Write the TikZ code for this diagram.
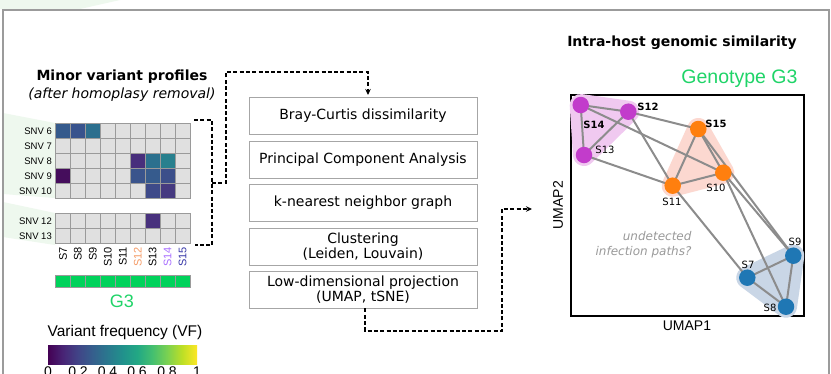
\documentclass[tikz,border=0pt]{standalone}
\usepackage{fontspec}
\setmainfont{DejaVu Sans}
\newfontfamily\arialf{Liberation Sans}
\usetikzlibrary{arrows.meta}
\definecolor{frameGray}{HTML}{9B9B9B}
\definecolor{bgGreen}{HTML}{EEF8EE}
\definecolor{cellGray}{HTML}{E0E0E0}
\definecolor{cellLine}{HTML}{9A9A9A}
\definecolor{boxGray}{HTML}{A6A6A6}
\definecolor{genoGreen}{HTML}{00D25B}
\definecolor{txtGreen}{HTML}{1FD468}
\definecolor{edgeGray}{HTML}{8C8C8C}
\definecolor{nPurple}{HTML}{C23CCB}
\definecolor{nOrange}{HTML}{FF7F0E}
\definecolor{nBlue}{HTML}{1F77B4}
\definecolor{hPurple}{HTML}{F0C9F0}
\definecolor{hOrange}{HTML}{FCD8D0}
\definecolor{hBlue}{HTML}{C9D6E6}
\definecolor{lOrange}{HTML}{F59C68}
\definecolor{lLav}{HTML}{A970FF}
\definecolor{lBlue}{HTML}{3838A8}
\definecolor{undGray}{HTML}{9A9A9A}
\definecolor{v0}{HTML}{440154}
\definecolor{v1}{HTML}{482475}
\definecolor{v2}{HTML}{414487}
\definecolor{v3}{HTML}{355F8D}
\definecolor{v4}{HTML}{2A788E}
\definecolor{v5}{HTML}{21918C}
\definecolor{v6}{HTML}{22A884}
\definecolor{v7}{HTML}{44BF70}
\definecolor{v8}{HTML}{7AD151}
\definecolor{v9}{HTML}{BDDF26}
\definecolor{v10}{HTML}{FDE725}
\definecolor{cA}{HTML}{355A8C}
\definecolor{cB}{HTML}{38538D}
\definecolor{cC}{HTML}{2C6F8E}
\definecolor{cD}{HTML}{482F7C}
\definecolor{cE}{HTML}{2B708E}
\definecolor{cF}{HTML}{28808E}
\definecolor{cG}{HTML}{450D5C}
\definecolor{cH}{HTML}{3A548C}
\definecolor{cI}{HTML}{365B8D}
\definecolor{cJ}{HTML}{3C4F8A}
\definecolor{cK}{HTML}{3E4A89}
\definecolor{cL}{HTML}{463A80}
\definecolor{cM}{HTML}{48317D}
\pgfdeclarehorizontalshading{viridis}{100bp}{color(0bp)=(v0); color(25bp)=(v0); color(30bp)=(v1); color(35bp)=(v2); color(40bp)=(v3); color(45bp)=(v4); color(50bp)=(v5); color(55bp)=(v6); color(60bp)=(v7); color(65bp)=(v8); color(70bp)=(v9); color(75bp)=(v10); color(100bp)=(v10)}
\newcommand\hmcell[3]{\draw[cell,fill=#3] ({55.5+#1*14.95},{#2}) rectangle ++(14.95,15);}
\begin{document}
\begin{tikzpicture}[x=1pt,y=-1pt,
  cell/.style={draw=cellLine, line width=0.9pt, fill=cellGray},
  gcell/.style={draw=cellLine, line width=0.9pt, fill=genoGreen},
  rowlab/.style={anchor=east, inner sep=0pt, font=\arialf\fontsize{9.5}{11}\selectfont},
  collab/.style={rotate=90, anchor=east, inner sep=0pt, font=\arialf\fontsize{11}{12}\selectfont},
  stepbox/.style={draw=boxGray, line width=0.9pt, fill=white, minimum width=228pt, minimum height=37pt, align=center, inner sep=0pt, font=\fontsize{14}{15.5}\selectfont},
  dashconn/.style={draw=black, line width=1.3pt, dash pattern=on 4pt off 2.3pt},
  tipv/.style={-{Stealth[length=6pt,width=5.5pt]}},
  samp/.style={circle, inner sep=0pt, minimum size=16.5pt},
  slab/.style={inner sep=0pt, font=\fontsize{10}{12}\selectfont},
  sbold/.style={inner sep=0pt, font=\bfseries\fontsize{10}{12}\selectfont},
  edge/.style={draw=edgeGray, line width=2pt},
  hull/.style={line width=22pt, line join=round}]
\clip (0,0) rectangle (831,373);
\fill[white] (0,0) rectangle (831,373);
% faint background shapes
\fill[bgGreen] (0,0) -- (120,0) -- (80,9) -- (0,9) -- cycle;
\fill[bgGreen] (3,113) -- (55,123) -- (55,198) -- (3,194) -- cycle;
\fill[bgGreen] (3,202) -- (55,213) -- (55,245) -- (3,237) -- cycle;
% frame
\draw[frameGray, line width=2.5pt] (3,10) rectangle (829,400);

% ---------- heatmap ----------
\node[font=\bfseries\fontsize{14}{16}\selectfont] (t1) at (122,77) {Minor variant profiles};
\node[font=\itshape\fontsize{14}{16}\selectfont] (t2) at (122,95) {(after homoplasy removal)};
\foreach \r in {0,...,4} \foreach \c in {0,...,8} {\draw[cell] ({55.5+\c*14.95},{123.3+\r*15}) rectangle ++(14.95,15);}
\foreach \r in {0,1} \foreach \c in {0,...,8} {\draw[cell] ({55.5+\c*14.95},{213.3+\r*15}) rectangle ++(14.95,15);}
% SNV 6
\hmcell{0}{123.3}{cA}
\hmcell{1}{123.3}{cB}
\hmcell{2}{123.3}{cC}
% SNV 8
\hmcell{5}{153.3}{cD}
\hmcell{6}{153.3}{cE}
\hmcell{7}{153.3}{cF}
% SNV 9
\hmcell{0}{168.3}{cG}
\hmcell{5}{168.3}{cH}
\hmcell{6}{168.3}{cI}
\hmcell{7}{168.3}{cJ}
% SNV 10
\hmcell{6}{183.3}{cK}
\hmcell{7}{183.3}{cL}
% SNV 12
\hmcell{6}{213.3}{cM}
% row labels
\node[rowlab] (r6) at (52,130.8) {SNV 6};
\node[rowlab] (r7) at (52,145.8) {SNV 7};
\node[rowlab] (r8) at (52,160.8) {SNV 8};
\node[rowlab] (r9) at (52,175.8) {SNV 9};
\node[rowlab] (r10) at (52,190.8) {SNV 10};
\node[rowlab] (r12) at (52,220.8) {SNV 12};
\node[rowlab] (r13) at (52,235.8) {SNV 13};
% column labels
\foreach \c/\t/\col in {0/S7/black,1/S8/black,2/S9/black,3/S10/black,4/S11/black,5/S12/lOrange,6/S13/black,7/S14/lLav,8/S15/lBlue}
  {\node[collab, text=\col] (c\t) at ({55.5+\c*14.95+7.5},247) {\t};}
% genotype bar
\foreach \c in {0,...,8} {\draw[gcell] ({55.5+\c*14.95},275) rectangle ++(14.95,12.3);}
\node[text=txtGreen, font=\arialf\fontsize{18}{20}\selectfont] (g3) at (122,301) {G3};
% colour bar
\node[font=\arialf\fontsize{15.5}{17}\selectfont] (vf) at (125,332) {Variant frequency (VF)};
\shade[shading=viridis] (48,345) rectangle (197,364);
\foreach \x/\t in {48/0,78/0.2,107.5/0.4,137/0.6,167/0.8,197/1}
  {\node[anchor=north, inner sep=0pt, font=\arialf\fontsize{14}{16}\selectfont] at (\x,367) {\t};}

% ---------- pipeline ----------
\node[stepbox] (b1) at (363,115.5) {Bray-Curtis dissimilarity};
\node[stepbox] (b2) at (363,159.5) {Principal Component Analysis};
\node[stepbox] (b3) at (363,203) {k-nearest neighbor graph};
\node[stepbox] (b4) at (363,246.5) {Clustering\\(Leiden, Louvain)};
\node[stepbox] (b5) at (363,289.5) {Low-dimensional projection\\(UMAP, tSNE)};

% connectors
\coordinate (hmTR) at (194,120);
\coordinate (hmBR) at (195,245);
\coordinate (brk) at (212,183);
\coordinate (inTip) at (368,95);
\coordinate (outTip) at (532,209);
\draw[dashconn] (hmTR) -- (212,120) -- (212,245) -- (hmBR);
\draw[dashconn, tipv] (brk) -- (226,183) -- (226,72) -| (inTip);
\draw[dashconn, tipv] ([xshift=2pt]b5.south) -- (365,331) -- (502,331) |- (outTip);

% ---------- right panel ----------
\node[font=\bfseries\fontsize{14}{16}\selectfont] (t3) at (682,43) {Intra-host genomic similarity};
\node[text=txtGreen, font=\arialf\fontsize{19.5}{22}\selectfont, anchor=east] (gt) at (801,79) {Genotype G3};
\draw[black, line width=1.5pt] (571,95) rectangle (804,316);
\node[rotate=90, font=\arialf\fontsize{14}{16}\selectfont] (u2) at (558,205) {UMAP2};
\node[font=\arialf\fontsize{14}{16}\selectfont] (u1) at (687,326) {UMAP1};

% samples
\coordinate (p14) at (580.7,105);
\coordinate (p12) at (628.3,111.7);
\coordinate (p13) at (584,155);
\coordinate (p15) at (698.3,129);
\coordinate (p10) at (723.3,172.7);
\coordinate (p11) at (672.7,185.7);
\coordinate (p9) at (793.3,255.7);
\coordinate (p7) at (747.3,277.7);
\coordinate (p8) at (786,306.7);
% hulls
\filldraw[hull, fill=hPurple, draw=hPurple] (p14) -- (p12) -- (p13) -- cycle;
\filldraw[hull, fill=hOrange, draw=hOrange] (p15) -- (p10) -- (p11) -- cycle;
\filldraw[hull, fill=hBlue, draw=hBlue] (p9) -- (p8) -- (p7) -- cycle;
% edges
\foreach \a/\b in {p14/p12,p14/p13,p12/p13,p14/p10,p12/p15,p12/p11,p13/p11,p15/p11,p15/p10,p15/p9,p11/p10,p10/p8,p10/p9,p11/p7,p7/p9,p7/p8,p9/p8}
  {\draw[edge] (\a) -- (\b);}
% nodes
\node[samp, fill=nPurple] (s14) at (p14) {};
\node[samp, fill=nPurple] (s12) at (p12) {};
\node[samp, fill=nPurple] (s13) at (p13) {};
\node[samp, fill=nOrange] (s15) at (p15) {};
\node[samp, fill=nOrange] (s10) at (p10) {};
\node[samp, fill=nOrange] (s11) at (p11) {};
\node[samp, fill=nBlue] (s9) at (p9) {};
\node[samp, fill=nBlue] (s7) at (p7) {};
\node[samp, fill=nBlue] (s8) at (p8) {};
% labels
\node[sbold] (l12) at (648,107) {S12};
\node[sbold] (l14) at (594,125) {S14};
\node[slab] (l13) at (605,150) {S13};
\node[sbold] (l15) at (716,124) {S15};
\node[slab] (l10) at (716,188) {S10};
\node[slab] (l11) at (672,201.5) {S11};
\node[slab] (l9) at (795,242) {S9};
\node[slab] (l7) at (748,265) {S7};
\node[slab] (l8) at (770,308) {S8};
\node[align=right, anchor=east, text=undGray, font=\itshape\fontsize{12}{15}\selectfont] (und) at (695,244.5) {undetected\\infection paths?};
\end{tikzpicture}
\end{document}
